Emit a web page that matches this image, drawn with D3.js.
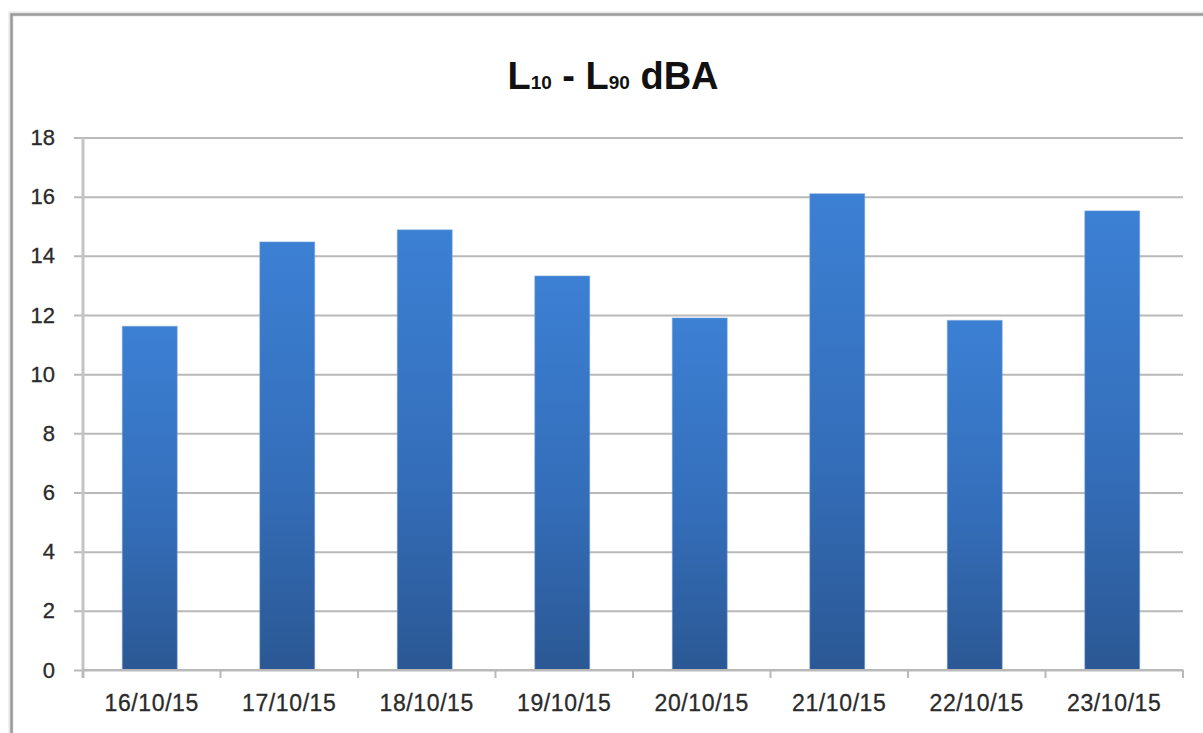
<!DOCTYPE html>
<html>
<head>
<meta charset="utf-8">
<script src="https://cdn.jsdelivr.net/npm/d3@7"></script>
<style>
  html, body { margin: 0; padding: 0; background: #fff; }
  svg { display: block; }
</style>
</head>
<body>
<svg id="chart" width="1203" height="733"></svg>
<script>
// Daily L10 - L90 spread, in dBA
const dates = ["16/10/15", "17/10/15", "18/10/15", "19/10/15", "20/10/15", "21/10/15", "22/10/15", "23/10/15"];
const spread = [11.62, 14.47, 14.88, 13.32, 11.90, 16.10, 11.82, 15.52];
const yTicks = [0, 2, 4, 6, 8, 10, 12, 14, 16, 18];

const svg = d3.select("#chart");
const W = 1203, H = 733;
const plot = { left: 83, right: 1183, top: 137.5, bottom: 670 };
const font = "'Liberation Sans', Arial, sans-serif";

// frame around the chart
svg.append("rect").attr("x", 11).attr("y", 14).attr("width", W).attr("height", H)
  .attr("fill", "none").attr("stroke", "#e6e6e6").attr("stroke-width", 5);
svg.append("path").attr("d", `M11.5,${H} V14.5 H${W}`)
  .attr("fill", "none").attr("stroke", "#9a9a9a").attr("stroke-width", 2.5);

const x = d3.scaleBand().domain(dates)
  .range([plot.left, plot.right]).paddingInner(0.6).paddingOuter(0.3);
const y = d3.scaleLinear().domain([0, 18]).range([plot.bottom, plot.top]);

const defs = svg.append("defs");
const grad = defs.append("linearGradient").attr("id", "barFill")
  .attr("x1", 0).attr("y1", 0).attr("x2", 0).attr("y2", 1);
grad.append("stop").attr("offset", "0%").attr("stop-color", "#3c80d4");
grad.append("stop").attr("offset", "55%").attr("stop-color", "#346eba");
grad.append("stop").attr("offset", "100%").attr("stop-color", "#2b5894");

// horizontal gridlines with short left ticks
const yAxis = d3.axisLeft(y).tickValues(yTicks)
  .tickSize(-(plot.right - plot.left)).tickSizeOuter(0).tickPadding(28);
const gy = svg.append("g").attr("transform", `translate(${plot.left},0)`).call(yAxis);
gy.select(".domain").remove();
gy.selectAll(".tick line")
  .attr("x1", -9)
  .attr("stroke", "#b9b9b9").attr("stroke-width", 2);
gy.selectAll(".tick text")
  .attr("font-family", font).attr("font-size", 22).attr("fill", "#2a2a2a")
  .attr("stroke", "#2a2a2a").attr("stroke-width", 0.3);

// vertical axis line
svg.append("line").attr("x1", plot.left).attr("x2", plot.left)
  .attr("y1", plot.top).attr("y2", plot.bottom + 8)
  .attr("stroke", "#c4c4c4").attr("stroke-width", 3);

// bars
svg.append("g").selectAll("rect").data(dates).join("rect")
  .attr("x", d => x(d) - 2)
  .attr("width", x.bandwidth())
  .attr("y", (d, i) => y(spread[i]))
  .attr("height", (d, i) => y(0) - y(spread[i]))
  .attr("fill", "url(#barFill)")
  .attr("stroke", "#7fa8dc").attr("stroke-opacity", 0.5).attr("stroke-width", 1);

// category axis
const xAxis = d3.axisBottom(x).tickSize(0).tickPadding(25);
const gx = svg.append("g").attr("transform", `translate(0,${plot.bottom})`).call(xAxis);
gx.select(".domain").remove();
gx.selectAll(".tick text")
  .attr("font-family", font).attr("font-size", 23).attr("fill", "#2a2a2a")
  .attr("letter-spacing", 0.6)
  .attr("stroke", "#2a2a2a").attr("stroke-width", 0.3);

svg.append("line").attr("x1", plot.left).attr("x2", plot.right)
  .attr("y1", plot.bottom).attr("y2", plot.bottom)
  .attr("stroke", "#b9b9b9").attr("stroke-width", 2);
const bounds = [plot.left].concat(dates.map(d => x(d) - x.step() * x.paddingOuter() + x.step()));
svg.append("g").selectAll("line").data(bounds).join("line")
  .attr("x1", d => d).attr("x2", d => d)
  .attr("y1", plot.bottom).attr("y2", plot.bottom + 8)
  .attr("stroke", "#b9b9b9").attr("stroke-width", 2);

// title with subscripts
const title = svg.append("text").attr("x", 613).attr("y", 89)
  .attr("text-anchor", "middle").attr("font-family", font)
  .attr("font-weight", "bold").attr("fill", "#111");
title.append("tspan").attr("font-size", 38).text("L");
title.append("tspan").attr("font-size", 19).text("10");
title.append("tspan").attr("font-size", 38).text(" - L");
title.append("tspan").attr("font-size", 19).text("90");
title.append("tspan").attr("font-size", 38).text(" dBA");
</script>
</body>
</html>
